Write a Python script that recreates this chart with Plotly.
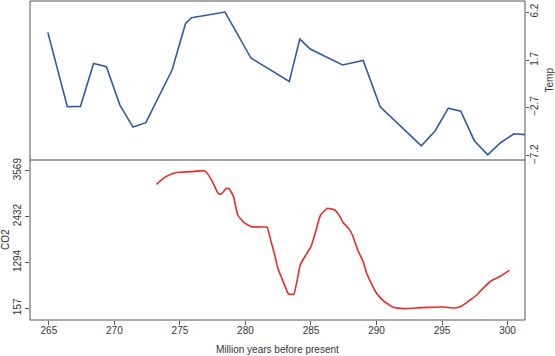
import plotly.graph_objects as go

# Temperature series (top panel, right axis)
temp_years = [264.92, 266.41, 267.41, 268.41, 269.39, 270.42, 271.42, 272.40, 274.40,
              275.43, 275.89, 278.44, 280.42, 283.34, 284.15, 284.94, 287.41, 288.98,
              290.28, 293.42, 294.48, 295.48, 296.43, 297.46, 298.49, 299.46, 300.49, 301.6]
temp_values = [4.30, -2.63, -2.60, 1.41, 1.10, -2.48, -4.53, -4.12, 0.79,
               5.14, 5.67, 6.20, 1.91, -0.27, 3.68, 2.75, 1.26, 1.69,
               -2.63, -6.27, -4.87, -2.76, -3.04, -5.80, -7.11, -5.99, -5.15, -5.26]

# CO2 series (bottom panel, left axis)
co2_years = [273.21, 273.81, 274.35, 274.89, 275.84, 276.79, 277.00, 277.41, 277.92, 278.14,
             278.55, 278.77, 279.09, 279.41, 279.90, 280.44, 281.53, 281.66, 281.99, 282.20,
             282.47, 282.88, 283.29, 283.69, 284.18, 284.56, 285.00, 285.32, 285.73, 286.27,
             286.81, 287.17, 287.49, 287.89, 288.16, 288.57, 288.98, 289.25, 289.60, 290.06,
             290.60, 291.28, 292.09, 293.45, 295.07, 296.02, 296.51, 296.97, 297.65, 298.05,
             298.73, 299.14, 299.68, 300.14]
co2_values = [3230, 3396, 3486, 3528, 3544, 3569, 3536, 3338, 3007, 2991,
              3131, 3115, 2925, 2470, 2280, 2181, 2173, 2165, 1768, 1520,
              1148, 818, 512, 512, 1231, 1454, 1685, 2016, 2470, 2636,
              2594, 2454, 2264, 2132, 1975, 1603, 1314, 1025, 777, 504,
              322, 182, 149, 174, 190, 166, 215, 322, 488, 628,
              835, 901, 1000, 1099]

x_ticks = [265, 270, 275, 280, 285, 290, 295, 300]
temp_ticks = [6.2, 1.7, -2.7, -7.2]
co2_ticks = [157, 1294, 2432, 3569]

FONT = "Liberation Sans, Arial, Helvetica, sans-serif"
AXC = "#555555"
TXT = "#333333"

fig = go.Figure()
fig.add_trace(go.Scatter(x=temp_years, y=temp_values, mode="lines", xaxis="x", yaxis="y2",
                         line=dict(color="#2f5aa5", width=1.6), showlegend=False))
fig.add_trace(go.Scatter(x=co2_years, y=co2_values, mode="lines", xaxis="x", yaxis="y",
                         line=dict(color="#ee2a24", width=1.6, shape="spline", smoothing=0.4),
                         showlegend=False))

split = (320 - 160) / 319

fig.update_layout(
    width=555, height=356,
    margin=dict(l=30, r=30, t=1, b=36, autoexpand=False),
    paper_bgcolor="white", plot_bgcolor="white",
    font=dict(family=FONT, size=10, color=TXT),
    xaxis=dict(range=[263.56, 301.33], tickvals=x_ticks, ticktext=[str(v) for v in x_ticks],
               ticks="outside", ticklen=4, tickcolor=AXC, showgrid=False, zeroline=False,
               showline=False, anchor="y", automargin=False, ticklabelstandoff=-3),
    yaxis=dict(domain=[0, split], range=[-132, 3833], tickvals=co2_ticks,
               ticktext=[str(v) for v in co2_ticks], tickangle=-90,
               ticks="outside", ticklen=4, tickcolor=AXC, showgrid=False, zeroline=False,
               showline=False, anchor="x", automargin=False),
    yaxis2=dict(domain=[split, 1], range=[-7.60, 7.23], tickvals=temp_ticks,
                ticktext=["6.2", "1.7", "\u22122.7", "\u22127.2"], tickangle=-90,
                side="right", anchor="x", automargin=False, ticklabelstandoff=-3,
                ticks="outside", ticklen=3, tickcolor=AXC, showgrid=False, zeroline=False,
                showline=False),
    annotations=[
        dict(text="Million years before present", xref="paper", yref="paper", x=0.5, y=0,
             xanchor="center", yanchor="middle", yshift=-29, showarrow=False,
             font=dict(size=10, color=TXT)),
        dict(text="CO2", xref="paper", yref="paper", x=0, y=split / 2, xanchor="center",
             yanchor="middle", xshift=-25, textangle=-90, showarrow=False,
             font=dict(size=10, color=TXT)),
        dict(text="Temp", xref="paper", yref="paper", x=1, y=(1 + split) / 2, xanchor="center",
             yanchor="middle", xshift=24, textangle=-90, showarrow=False,
             font=dict(size=10, color=TXT)),
    ],
    shapes=[
        dict(type="rect", xref="paper", yref="paper", x0=0, x1=1, y0=0, y1=1,
             line=dict(color=AXC, width=1), fillcolor="rgba(0,0,0,0)", layer="above"),
        dict(type="line", xref="paper", yref="paper", x0=0, x1=1, y0=split, y1=split,
             line=dict(color="#444444", width=1), layer="above"),
    ],
)

fig.write_html("out.html", config={"displayModeBar": False},
               post_script="document.body.style.margin='0';document.body.style.padding='0';")
